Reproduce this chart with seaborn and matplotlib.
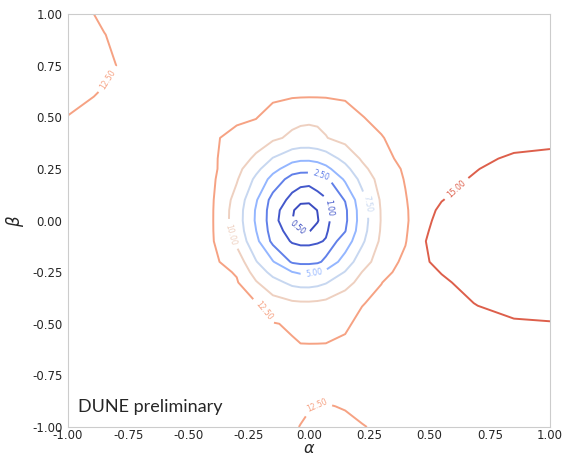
import matplotlib
matplotlib.use("Agg")
import numpy as np
import pandas as pd
import seaborn as sns
import matplotlib.pyplot as plt
from matplotlib.ticker import FormatStrFormatter

# grid nodes (alpha along columns, beta along rows)
alpha_nodes = [-1.0, -0.85, -0.7, -0.55, -0.4, -0.3, -0.22, -0.15, -0.07, -0.035, 0.0,
               0.035, 0.07, 0.15, 0.22, 0.3, 0.4, 0.45, 0.55, 0.7, 0.85, 1.0]
beta_nodes = [-1.0, -0.9, -0.75, -0.6, -0.5, -0.4, -0.3, -0.25, -0.2, -0.1, -0.05, 0.0,
              0.05, 0.1, 0.2, 0.25, 0.3, 0.4, 0.5, 0.6, 0.75, 0.9, 1.0]

# delta chi2, one row per beta node
chi2_rows = [
    [13.9, 13.9, 13.8, 13.8, 13.7, 13.6, 13.5, 13.3, 12.7, 12.45, 12.2, 12.1, 12.0, 12.1, 12.4, 12.8, 13.3, 13.6, 13.8, 13.9, 14.0, 14.0],
    [13.9, 13.9, 13.8, 13.8, 13.8, 13.75, 13.7, 13.5, 13.0, 12.8, 12.6, 12.45, 12.4, 12.6, 13.0, 13.4, 13.6, 13.7, 13.8, 13.9, 14.0, 14.0],
    [13.9, 13.9, 13.8, 13.8, 13.8, 13.7, 13.63, 13.57, 13.53, 13.52, 13.52, 13.52, 13.53, 13.56, 13.61, 13.75, 13.8, 13.8, 13.85, 13.9, 14.0, 14.05],
    [13.9, 13.9, 13.8, 13.8, 13.67, 13.52, 13.17, 12.87, 12.64, 12.59, 12.57, 12.58, 12.61, 12.8, 13.08, 13.5, 13.64, 13.7, 13.8, 14.0, 14.1, 14.2],
    [13.9, 13.9, 13.8, 13.8, 13.57, 13.09, 12.8, 12.6, 12.3, 10.7, 10.38, 10.4, 10.56, 12.2, 13.0, 13.2, 13.53, 13.6, 13.9, 14.3, 14.7, 14.85],
    [13.9, 13.85, 13.8, 13.76, 13.42, 13.3, 12.6, 11.01, 10.38, 10.27, 10.26, 10.36, 10.56, 11.37, 12.4, 13.0, 13.4, 13.6, 14.2, 15.1, 15.9, 16.1],
    [13.9, 13.85, 13.8, 13.7, 13.08, 12.7, 10.2, 8.36, 6.91, 6.65, 6.63, 6.86, 7.33, 9.15, 10.76, 12.45, 13.6, 13.9, 14.6, 16.0, 16.8, 17.0],
    [13.9, 13.85, 13.8, 13.68, 13.3, 12.3, 8.96, 6.73, 5.06, 4.68, 4.66, 5.0, 5.55, 7.62, 10.03, 11.81, 13.3, 13.9, 15.1, 16.5, 17.2, 17.4],
    [13.9, 13.85, 13.8, 13.66, 12.9, 11.5, 7.65, 5.16, 2.2, 1.9, 1.9, 2.1, 3.0, 6.16, 8.86, 11.26, 13.0, 14.0, 16.0, 17.0, 17.6, 17.8],
    [13.9, 13.85, 13.8, 13.64, 12.66, 9.42, 5.66, 1.9, 0.88, 0.77, 0.77, 0.86, 1.08, 3.58, 7.06, 10.48, 12.36, 14.2, 16.5, 17.5, 18.0, 18.2],
    [13.9, 13.85, 13.8, 13.63, 12.61, 8.97, 5.05, 1.4, 0.65, 0.49, 0.48, 0.62, 0.84, 2.4, 6.51, 10.25, 12.21, 13.85, 16.3, 17.35, 17.9, 18.1],
    [13.9, 13.85, 13.8, 13.63, 12.6, 8.76, 4.71, 1.2, 0.51, 0.27, 0.24, 0.47, 0.74, 2.0, 6.26, 10.14, 12.15, 13.5, 16.0, 17.2, 17.8, 18.0],
    [13.85, 13.83, 13.8, 13.63, 12.61, 8.81, 4.79, 1.25, 0.55, 0.34, 0.32, 0.51, 0.76, 2.05, 6.33, 10.17, 12.21, 13.45, 15.5, 16.9, 17.55, 17.8],
    [13.8, 13.8, 13.8, 13.64, 12.66, 9.12, 5.26, 1.6, 0.73, 0.6, 0.59, 0.71, 0.9, 2.6, 6.7, 10.33, 12.36, 13.4, 14.9, 16.5, 17.3, 17.6],
    [13.7, 13.75, 13.8, 13.66, 12.82, 10.23, 6.97, 4.13, 1.5, 1.25, 1.2, 1.4, 1.9, 5.39, 8.23, 10.99, 12.63, 13.4, 14.3, 15.3, 16.5, 17.0],
    [13.7, 13.75, 13.8, 13.68, 12.94, 10.76, 8.17, 5.78, 3.69, 3.24, 3.22, 3.6, 4.36, 6.74, 9.33, 11.48, 12.75, 13.45, 14.1, 14.95, 15.9, 16.3],
    [13.6, 13.7, 13.75, 13.7, 12.8, 11.37, 9.5, 7.37, 5.8, 5.5, 5.48, 5.74, 6.25, 8.21, 10.31, 12.05, 12.9, 13.5, 14.0, 14.6, 15.3, 15.6],
    [13.4, 13.6, 13.7, 13.76, 12.9, 11.6, 11.39, 10.43, 9.56, 9.34, 9.33, 9.52, 9.91, 10.81, 11.89, 12.4, 13.25, 13.5, 13.8, 14.0, 14.2, 14.3],
    [12.55, 13.3, 13.6, 13.8, 13.57, 13.09, 12.6, 11.62, 10.69, 10.48, 10.38, 10.4, 10.56, 11.33, 12.44, 12.96, 13.53, 13.6, 13.8, 13.9, 14.0, 14.0],
    [12.0, 12.7, 13.5, 13.8, 13.67, 13.52, 13.17, 12.87, 12.64, 12.59, 12.57, 12.58, 12.61, 12.8, 13.08, 13.5, 13.64, 13.7, 13.8, 13.9, 13.9, 13.9],
    [11.6, 12.1, 13.3, 13.8, 13.8, 13.7, 13.63, 13.57, 13.53, 13.52, 13.52, 13.52, 13.53, 13.56, 13.61, 13.75, 13.8, 13.85, 13.85, 13.9, 13.9, 13.9],
    [11.5, 12.45, 13.6, 13.8, 13.8, 13.8, 13.75, 13.75, 13.75, 13.745, 13.74, 13.745, 13.75, 13.75, 13.75, 13.8, 13.8, 13.85, 13.85, 13.9, 13.9, 13.9],
    [11.5, 12.9, 13.7, 13.8, 13.8, 13.8, 13.8, 13.8, 13.8, 13.8, 13.8, 13.8, 13.8, 13.8, 13.8, 13.8, 13.8, 13.85, 13.9, 13.9, 13.9, 13.9],
]

levels = [0.5, 1.0, 2.5, 5.0, 7.5, 10.0, 12.5, 15.0]
tick_values = [-1.0, -0.75, -0.5, -0.25, 0.0, 0.25, 0.5, 0.75, 1.0]

# where the contour labels sit
label_spots = [(-0.05, -0.04), (0.08, 0.06), (0.05, 0.22), (0.02, -0.25),
               (0.25, 0.08), (-0.33, -0.07), (-0.19, -0.44), (-0.83, 0.68),
               (0.03, -0.89), (0.6, 0.17)]

sns.set_style("white", {"axes.edgecolor": ".8", "axes.linewidth": 0.8})

grid = pd.DataFrame(chi2_rows, index=beta_nodes, columns=alpha_nodes)

fig = plt.figure(figsize=(5.65, 4.57), dpi=100)
ax = fig.add_axes([0.1204, 0.0656, 0.8531, 0.9037])

cmap = sns.color_palette("coolwarm", as_cmap=True)
cs = ax.contour(grid.columns.values, grid.index.values, grid.values,
                levels=levels, cmap=cmap, vmin=0.5, vmax=17.0, linewidths=1.4)
ax.clabel(cs, fmt="%.2f", fontsize=5.5, inline=True, manual=label_spots)

ax.set_xlim(-1, 1)
ax.set_ylim(-1, 1)
ax.set_xticks(tick_values)
ax.set_yticks(tick_values)
ax.xaxis.set_major_formatter(FormatStrFormatter("%.2f"))
ax.yaxis.set_major_formatter(FormatStrFormatter("%.2f"))
ax.tick_params(labelsize=8.5, colors=".15", length=0)
ax.tick_params(axis="x", pad=1.5)
ax.tick_params(axis="y", pad=4)
ax.set_xlabel(r"$\alpha$", fontsize=11.5)
ax.set_ylabel(r"$\beta$", fontsize=12)
ax.xaxis.set_label_coords(0.5, -0.033)
ax.yaxis.set_label_coords(-0.088, 0.5)

ax.text(0.021, 0.028, "DUNE preliminary", transform=ax.transAxes,
        fontsize=13, family="Lato", ha="left", va="bottom")

fig.savefig("out.png", dpi=100)
